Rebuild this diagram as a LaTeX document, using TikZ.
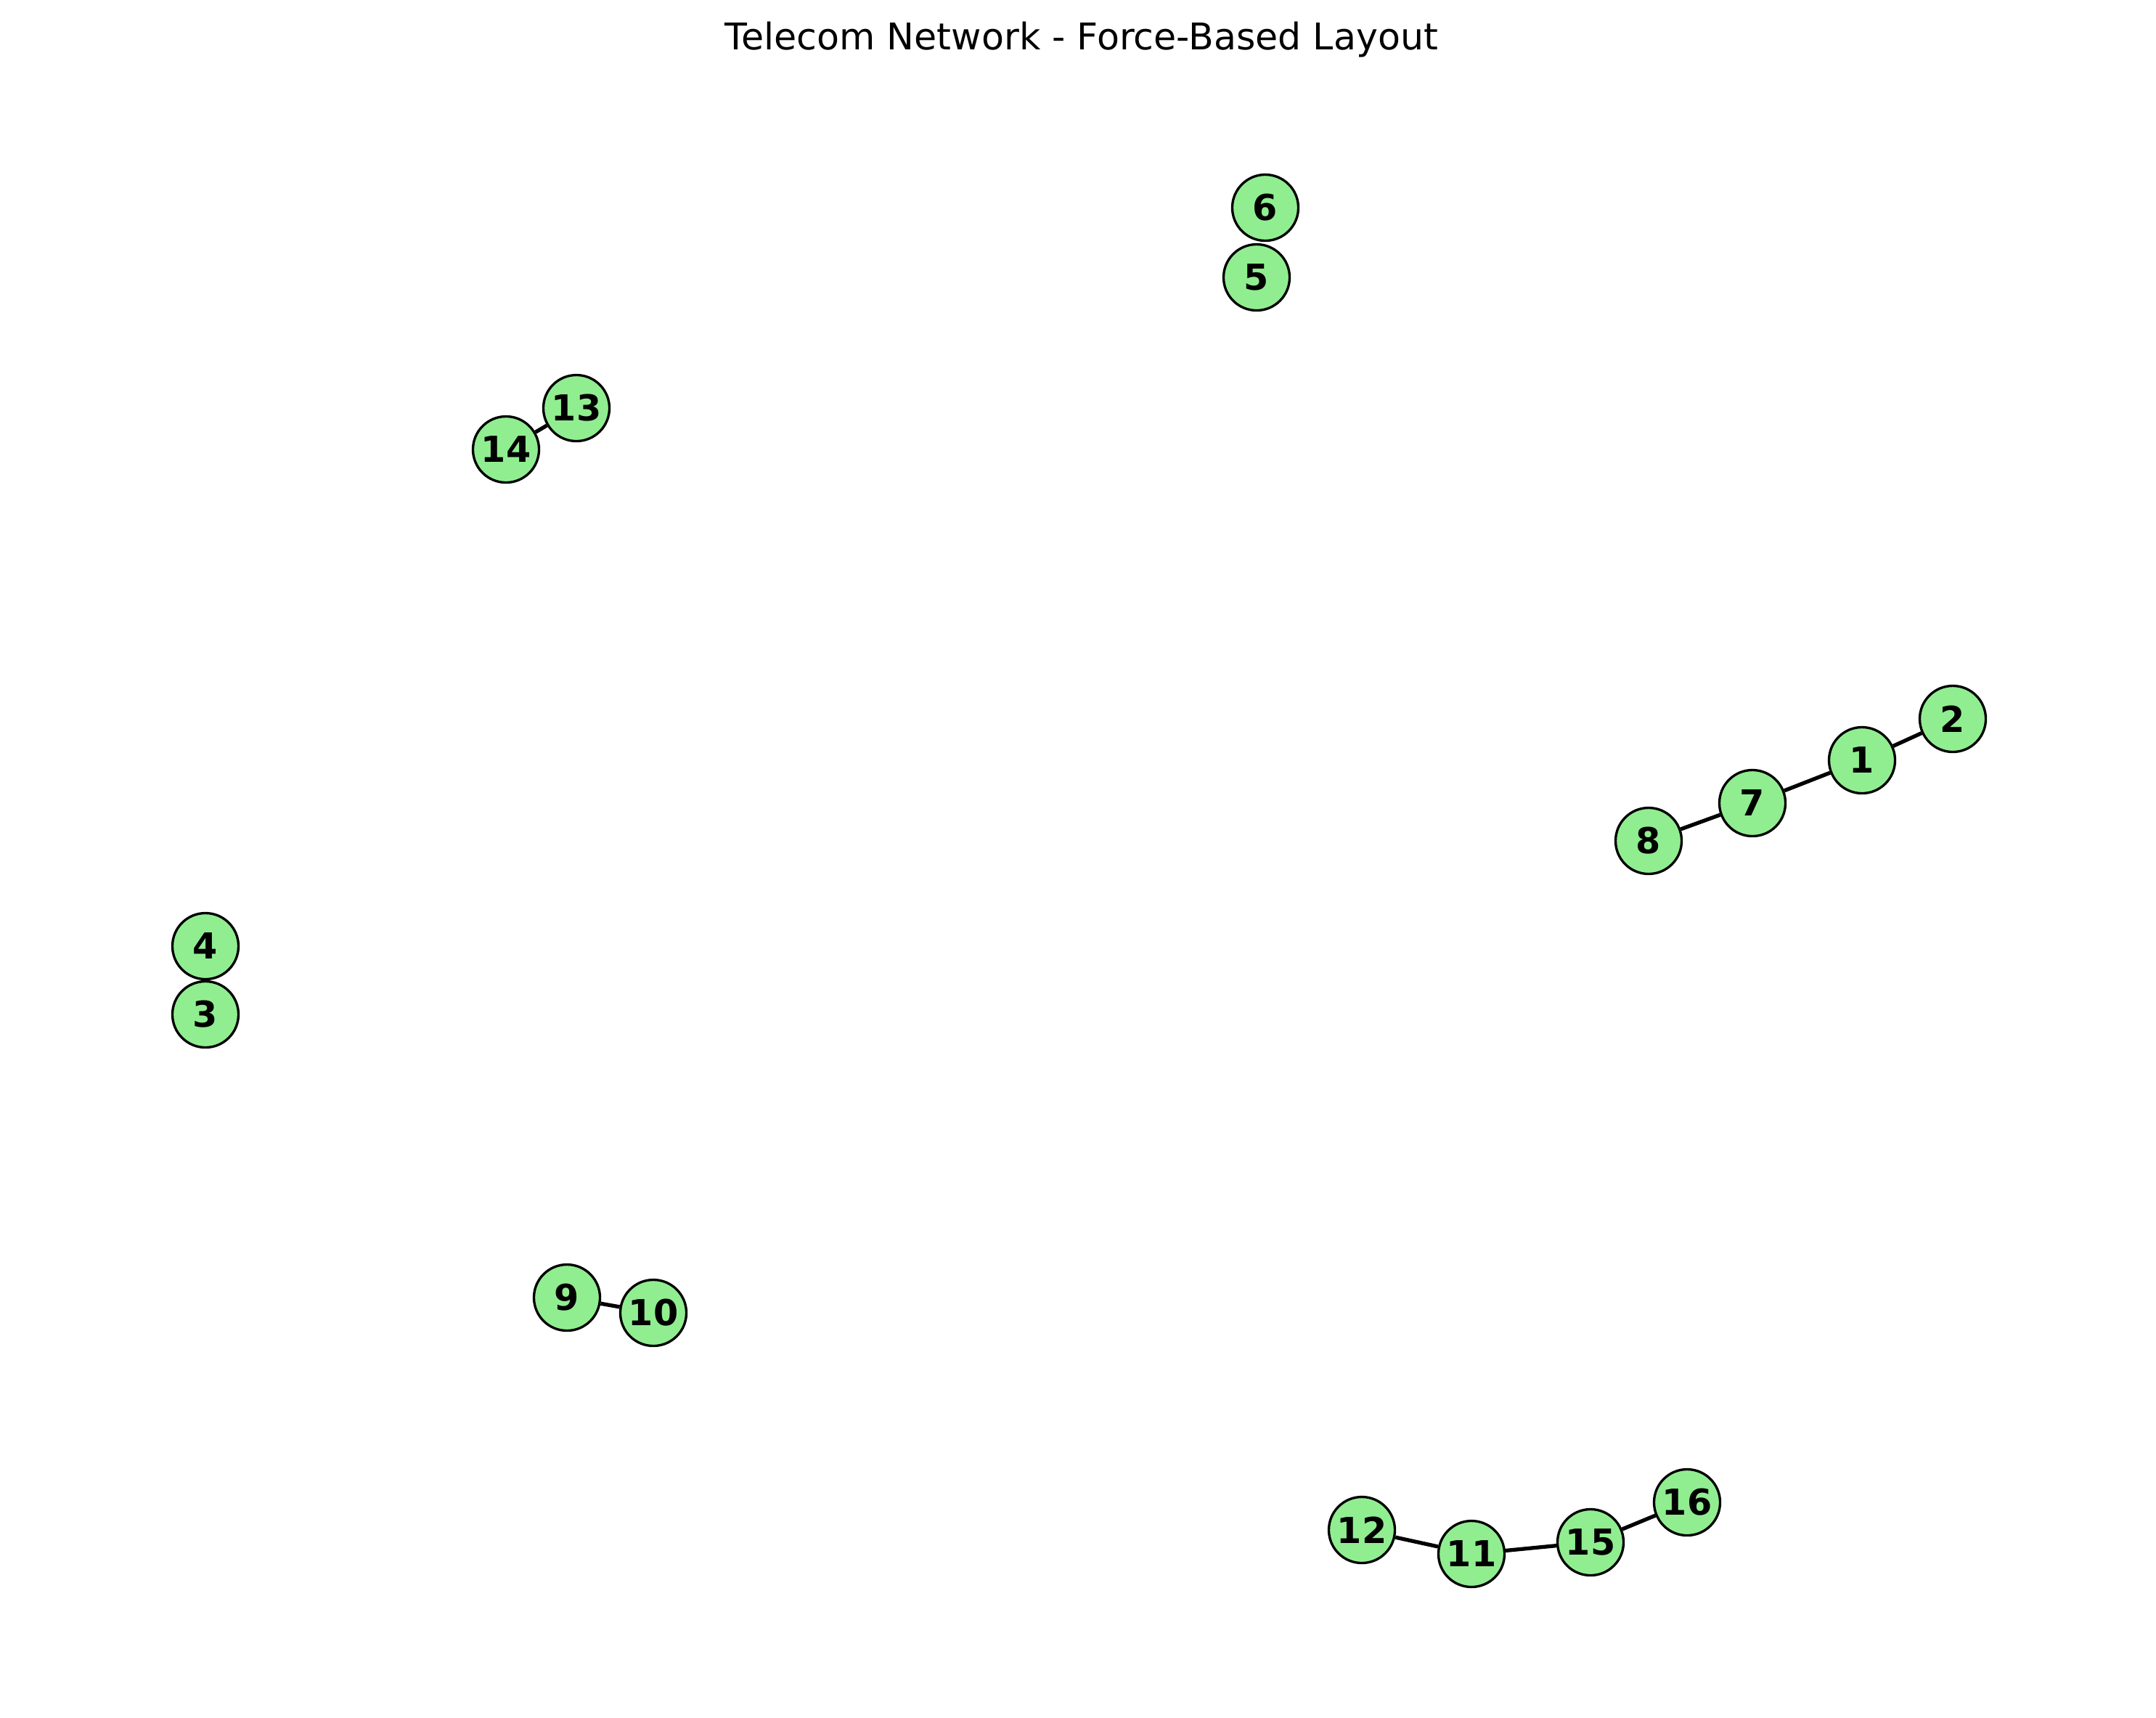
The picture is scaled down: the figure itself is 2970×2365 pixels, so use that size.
\documentclass[tikz,border=0pt]{standalone}
\usepackage{fontspec}
\setmainfont{DejaVu Sans}
\definecolor{nodegreen}{HTML}{90EE90}
\begin{document}
\begin{tikzpicture}[x=0.01cm,y=-0.01cm,
  vnode/.style={circle,draw=black,fill=nodegreen,line width=0.95pt,minimum size=0.91cm,inner sep=0pt,font=\fontsize{14}{14}\selectfont\bfseries},
  edge/.style={line width=1.5pt,black}]
\useasboundingbox (0,0) rectangle (2970,2365);
\node[font=\fontsize{14.4}{14.4}\selectfont,anchor=base] (title) at (1490,68) {Telecom Network - Force-Based Layout};
\node[vnode] (n1) at (2565,1047) {1};
\node[vnode] (n2) at (2690,990) {2};
\node[vnode] (n3) at (283,1397) {3};
\node[vnode] (n4) at (283,1303) {4};
\node[vnode] (n5) at (1731,382) {5};
\node[vnode] (n6) at (1743,286) {6};
\node[vnode] (n7) at (2414,1106) {7};
\node[vnode] (n8) at (2271,1158) {8};
\node[vnode] (n9) at (781,1787) {9};
\node[vnode] (n10) at (900,1808) {10};
\node[vnode] (n11) at (2027,2140) {11};
\node[vnode] (n12) at (1876,2107) {12};
\node[vnode] (n13) at (794,562) {13};
\node[vnode] (n14) at (697,619) {14};
\node[vnode] (n15) at (2191,2124) {15};
\node[vnode] (n16) at (2324,2069) {16};
\draw[edge] (n8) -- (n7);
\draw[edge] (n7) -- (n1);
\draw[edge] (n1) -- (n2);
\draw[edge] (n14) -- (n13);
\draw[edge] (n9) -- (n10);
\draw[edge] (n12) -- (n11);
\draw[edge] (n11) -- (n15);
\draw[edge] (n15) -- (n16);
\end{tikzpicture}
\end{document}
